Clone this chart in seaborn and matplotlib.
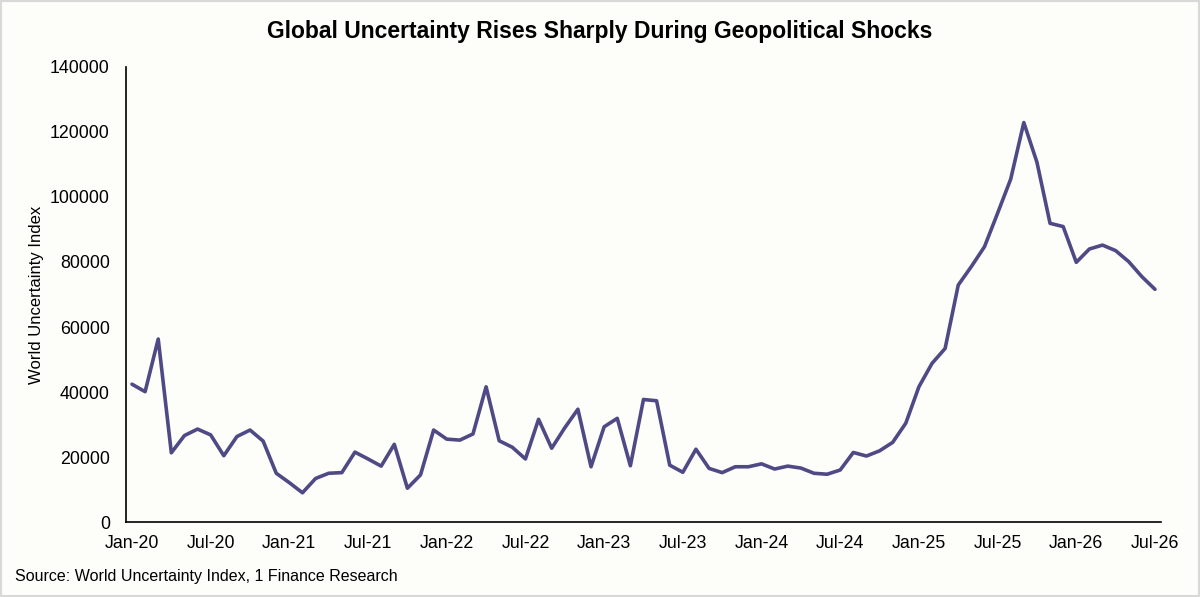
import numpy as np
import pandas as pd
import matplotlib
matplotlib.use("Agg")
import matplotlib.pyplot as plt
import seaborn as sns
from matplotlib.patches import Rectangle

# Monthly data, Jan-2020 .. Jul-2026
months = pd.date_range("2020-01-01", "2026-07-01", freq="MS")
wui_2020 = [42400, 40100, 56300, 21300, 26600, 28600, 26800, 20400, 26300, 28300, 24900, 15000]
wui_2021 = [12100, 9000, 13400, 15000, 15200, 21500, 19400, 17200, 23900, 10400, 14500, 28300]
wui_2022 = [25500, 25200, 27100, 41600, 25000, 23000, 19400, 31600, 22700, 29000, 34700, 17000]
wui_2023 = [29300, 31900, 17300, 37700, 37300, 17500, 15300, 22400, 16500, 15200, 17000, 17000]
wui_2024 = [17900, 16300, 17200, 16600, 15000, 14700, 16000, 21400, 20300, 21900, 24500, 30400]
wui_2025 = [41600, 48800, 53400, 72900, 78600, 84700, 95000, 105500, 122900, 110700, 91900, 90900]
wui_2026 = [79900, 84000, 85200, 83500, 80100, 75500, 71600]

values = wui_2020 + wui_2021 + wui_2022 + wui_2023 + wui_2024 + wui_2025 + wui_2026
df = pd.DataFrame({"month": months, "wui": values})
df["idx"] = np.arange(len(df))

title = "Global Uncertainty Rises Sharply During Geopolitical Shocks"
y_label = "World Uncertainty Index"
source = "Source: World Uncertainty Index, 1 Finance Research"
line_color = "#4f4a85"
bg = "#fdfdf9"

sns.set_theme(style="white")
plt.rcParams["font.family"] = ["Liberation Sans", "DejaVu Sans"]
plt.rcParams["text.color"] = "black"
plt.rcParams["axes.labelcolor"] = "black"

fig = plt.figure(figsize=(12, 5.97), dpi=100, facecolor=bg)
ax = fig.add_axes([0.1054, 0.1256, 0.8621, 0.7622])
ax.set_facecolor(bg)

sns.lineplot(data=df, x="idx", y="wui", color=line_color, linewidth=2.6, ax=ax)

ax.set_xlim(-0.42, len(df) - 1 + 0.46)
ax.set_ylim(0, 140000)
ax.set_yticks(np.arange(0, 140001, 20000))
ax.set_yticklabels([f"{v:d}" for v in range(0, 140001, 20000)], fontsize=12.8)

tick_idx = df["idx"][::6]
ax.set_xticks(tick_idx)
ax.set_xticklabels(df["month"][::6].dt.strftime("%b-%y"), fontsize=12.8)
ax.tick_params(axis="y", length=0, pad=12, colors="black")
ax.tick_params(axis="x", length=0, pad=9, colors="black")

ax.set_xlabel("")
ax.set_ylabel(y_label, fontsize=12, color="black", labelpad=4)

for side in ["top", "right"]:
    ax.spines[side].set_visible(False)
for side in ["left", "bottom"]:
    ax.spines[side].set_color("black")
    ax.spines[side].set_linewidth(1.2)

fig.text(0.5, 0.948, title, ha="center", va="center", fontsize=16.5,
         fontweight="bold", color="black")
fig.text(0.0125, 0.022, source, ha="left", va="bottom", fontsize=11.5, color="black")

# light grey frame around the figure
fig.patches.append(Rectangle((0, 0), 1, 1, transform=fig.transFigure, fill=False,
                             edgecolor="#d9d9d9", linewidth=3))

fig.savefig("out.png", dpi=100, facecolor=bg)
